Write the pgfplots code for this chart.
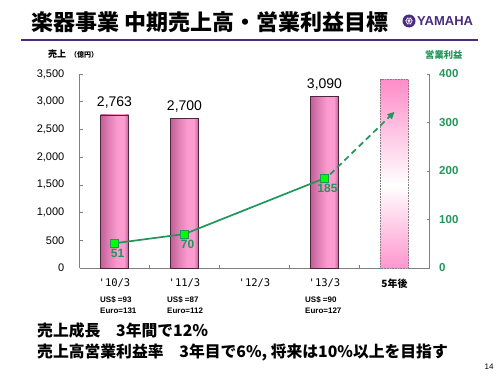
\documentclass[border=0pt]{standalone}
\usepackage{fontspec}
\setmainfont{Liberation Sans}
\newfontfamily\jp{Noto Sans CJK JP}
\newfontfamily\monof{DejaVu Sans Mono}
\usepackage{pgfplots}
\pgfplotsset{compat=1.18}
\usetikzlibrary{arrows.meta}
\definecolor{barpink}{RGB}{252,155,208}
\definecolor{bardark}{RGB}{192,96,150}
\definecolor{barmid}{RGB}{226,128,182}
\definecolor{gline}{RGB}{34,150,90}
\definecolor{gmark}{RGB}{0,255,0}
\definecolor{ypurple}{RGB}{75,43,128}
\definecolor{lpink}{RGB}{255,140,200}
\definecolor{lpinkb}{RGB}{255,150,206}
\definecolor{axgray}{RGB}{128,128,128}
\pgfdeclarehorizontalshading{barshade}{100bp}{color(0bp)=(bardark); color(25bp)=(bardark); color(40bp)=(barmid); color(55bp)=(barpink); color(67bp)=(barpink); color(75bp)=(bardark); color(100bp)=(bardark)}
\pgfdeclareverticalshading{fadeshade}{100bp}{color(0bp)=(lpinkb); color(25bp)=(lpinkb); color(47bp)=(white); color(75bp)=(lpink); color(100bp)=(lpink)}
\begin{document}
\begin{tikzpicture}[x=1bp,y=1bp]
\path[use as bounding box, fill=white] (0,0) rectangle (500,375);
% title
\node[anchor=west, inner sep=0pt, font=\jp\bfseries\fontsize{22bp}{24bp}\selectfont] at (31,353) {楽器事業 中期売上高・営業利益目標};
\draw[ypurple, line width=2bp] (21,335) -- (478,335);
% logo
\fill[ypurple] (409,354) circle (6.5);
\draw[white, line width=0.6bp] (409,354) circle (3);
\draw[white, line width=0.5bp] (405,354) -- (413,354) (407,350.5) -- (411,357.5) (407,357.5) -- (411,350.5);
\node[anchor=west, inner sep=0pt, font=\bfseries\fontsize{13bp}{15bp}\selectfont, text=ypurple] at (417,354) {YAMAHA};
% axis captions
\node[anchor=west, inner sep=0pt, font=\jp\bfseries\fontsize{9bp}{11bp}\selectfont] at (48,321) {売上\hspace{4bp}{\fontsize{7bp}{9bp}\selectfont（億円）}};
\node[anchor=west, inner sep=0pt, font=\jp\bfseries\fontsize{9.3bp}{11bp}\selectfont, text=gline] at (425,320) {営業利益};

\begin{axis}[
  at={(79.5bp,107bp)}, anchor=south west, scale only axis,
  width=350bp, height=194bp,
  xmin=-0.5, xmax=4.5, ymin=0, ymax=3500,
  axis x line*=bottom, axis y line*=left,
  axis line style={axgray, line width=0.8bp},
  ytick={0,500,...,3500},
  xtick={0,1,2,3,4},
  xticklabels={{\monof'10/3},{\monof'11/3},{\monof'12/3},{\monof'13/3},{\jp\bfseries\fontsize{10bp}{12bp}\selectfont 5年後}},
  minor xtick={0.5,1.5,2.5,3.5},
  major x tick style={draw=none},
  minor x tick style={axgray, line width=0.6bp},
  y tick style={axgray, line width=0.6bp},
  tick align=inside,
  major tick length=3bp, minor tick length=3bp,
  /pgf/number format/assume math mode=true,
  /pgf/number format/1000 sep={,},
  yticklabel style={font=\fontsize{11bp}{13bp}\selectfont, inner sep=0pt, xshift=-15bp},
  xticklabel style={font=\fontsize{10.5bp}{12bp}\selectfont, inner sep=0pt, yshift=-11bp},
  every node near coord/.append style={font=\fontsize{14bp}{16bp}\selectfont, inner sep=0pt, yshift=6bp, anchor=south},
  clip=false,
]
\addplot[ybar, bar width=0.4, bar shift=0pt, draw=black!60!bardark, line width=0.5bp, shading=barshade, nodes near coords] coordinates {(0,2763)};
\addplot[ybar, bar width=0.4, bar shift=0pt, draw=black!60!bardark, line width=0.5bp, shading=barshade, nodes near coords] coordinates {(1,2700)};
\addplot[ybar, bar width=0.4, bar shift=0pt, draw=black!60!bardark, line width=0.5bp, shading=barshade, nodes near coords] coordinates {(3,3090)};
\addplot[ybar, bar width=0.4, bar shift=0pt, draw=axgray, densely dotted, line width=0.6bp, shading=fadeshade] coordinates {(4,3400)};
\end{axis}

\begin{axis}[
  at={(79.5bp,107bp)}, anchor=south west, scale only axis,
  width=350bp, height=194bp,
  xmin=-0.5, xmax=4.5, ymin=0, ymax=400,
  axis x line=none, axis y line*=right,
  axis line style={axgray, line width=0.8bp},
  ytick={0,100,...,400},
  y tick style={axgray, line width=0.6bp},
  tick align=inside, major tick length=3bp,
  /pgf/number format/assume math mode=true,
  yticklabel style={font=\bfseries\fontsize{11.5bp}{13bp}\selectfont, text=gline, inner sep=0pt, xshift=9.5bp},
  clip=false,
]
\addplot[gline, line width=1.7bp, mark=square*, mark size=4bp,
  mark options={fill=gmark, draw=gline, line width=0.4bp, solid},
  nodes near coords,
  every node near coord/.append style={font=\bfseries\fontsize{12bp}{13bp}\selectfont, text=gline, inner sep=0pt, anchor=north, yshift=-6bp, xshift=3bp}]
  coordinates {(0,51) (1,70) (3,185)};
\addplot[gline, line width=1.7bp, dash pattern=on 6bp off 4bp, -{Triangle[length=7bp,width=6.5bp]}] coordinates {(3.08,193) (4,322)};
\end{axis}

% exchange rates
\node[anchor=west, inner sep=0pt, align=left, font=\bfseries\fontsize{8bp}{11bp}\selectfont] at (100,70) {US\$ =93\\Euro=131};
\node[anchor=west, inner sep=0pt, align=left, font=\bfseries\fontsize{8bp}{11bp}\selectfont] at (167,70) {US\$ =87\\Euro=112};
\node[anchor=west, inner sep=0pt, align=left, font=\bfseries\fontsize{8bp}{11bp}\selectfont] at (305,70) {US\$ =90\\Euro=127};
% bottom text
\node[anchor=west, inner sep=0pt, font=\jp\bfseries\fontsize{15.8bp}{17bp}\selectfont] at (37,45) {売上成長　3年間で12％};
\node[anchor=west, inner sep=0pt, font=\jp\bfseries\fontsize{15.8bp}{17bp}\selectfont] at (37,23) {売上高営業利益率　3年目で6\%, 将来は10\%以上を目指す};
\node[anchor=center, inner sep=0pt, font=\fontsize{8bp}{10bp}\selectfont] at (489,8) {14};
\end{tikzpicture}
\end{document}
